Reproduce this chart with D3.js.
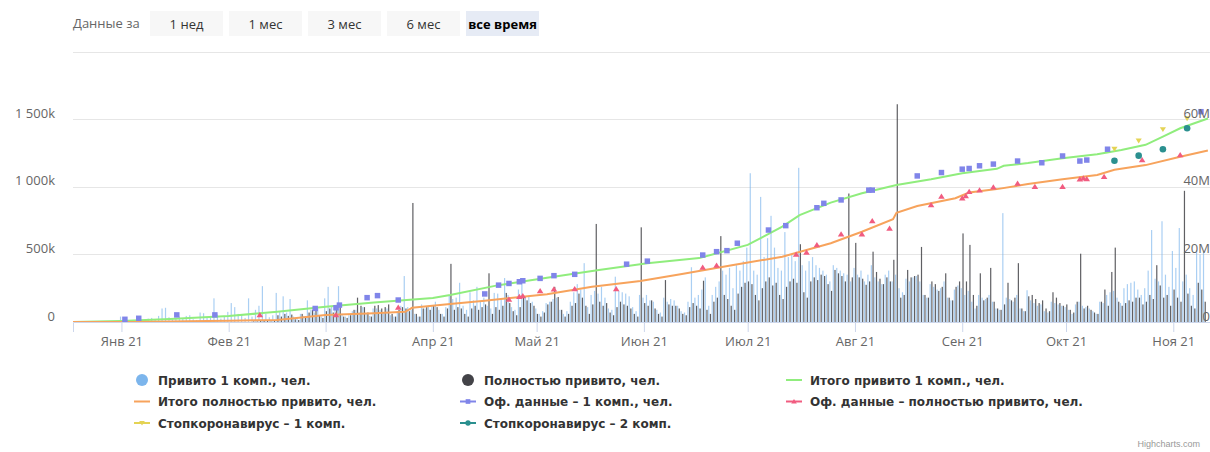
<!DOCTYPE html>
<html>
<head>
<meta charset="utf-8">
<script src="https://cdn.jsdelivr.net/npm/d3@7"></script>
<style>
  body { margin: 0; background: #fff; }
  svg { display: block; font-family: "Open Sans", "DejaVu Sans", sans-serif; }
</style>
</head>
<body>
<svg id="chart" width="1210" height="452"></svg>
<script>
// ---- data ----
// daily bars start on this date, values in thousands of people
var barStart = "2021-01-01";
var dose1Daily = [
  // Jan
  40, 8, 5, 10, 15, 20, 12, 8, 25, 30, 20, 45, 100, 105, 35, 20, 30, 40, 25, 45, 50, 20, 15, 70, 65, 35, 40, 175, 55, 25, 40,
  // Feb
  75, 140, 110, 60, 50, 30, 175, 40, 90, 120, 265, 60, 35, 50, 215, 80, 190, 70, 170, 40, 30, 60, 45, 160, 90, 70, 100, 40,
  // Mar
  175, 260, 120, 90, 265, 60, 40, 50, 80, 90, 70, 110, 60, 45, 100, 100, 90, 70, 100, 50, 40, 80, 120, 340, 110, 90, 60, 40, 130, 100, 120,
  // Apr
  120, 150, 90, 60, 110, 200, 170, 180, 290, 120, 90, 220, 160, 260, 150, 180, 120, 100, 215, 210, 170, 325, 200, 110, 90, 240, 295, 185, 185, 150,
  // May
  100, 60, 80, 140, 150, 170, 180, 90, 60, 80, 150, 220, 280, 240, 435, 110, 200, 230, 210, 260, 180, 100, 90, 335, 230, 220, 210, 190, 110, 80, 200,
  // Jun
  180, 200, 160, 150, 90, 70, 180, 150, 170, 160, 120, 80, 70, 150, 405, 180, 200, 240, 330, 120, 200, 260, 300, 380, 350, 400, 250, 420, 380, 450,
  // Jul
  550, 1100, 380, 350, 925, 480, 620, 785, 550, 400, 380, 665, 480, 500, 450, 1140, 420, 380, 450, 480, 420, 400, 380, 350, 300, 420, 400, 380, 360, 350, 300,
  // Aug
  400, 350, 380, 300, 350, 420, 330, 300, 280, 350, 380, 300, 350, 250, 220, 320, 300, 330, 340, 300, 200, 180, 280, 260, 240, 250, 300, 180, 160, 240, 270,
  // Sep
  250, 200, 230, 150, 100, 200, 180, 170, 200, 150, 100, 90, 805, 180, 170, 150, 200, 100, 80, 235, 160, 140, 120, 130, 80, 70, 150, 140, 130, 120,
  // Oct
  110, 90, 60, 130, 150, 120, 110, 100, 80, 60, 150, 140, 200, 220, 230, 180, 140, 250, 280, 290, 300, 240, 200, 250, 380, 680, 320, 300, 745, 350, 260,
  // Nov
  525, 400, 695, 300, 350, 250, 200, 530, 500, 520
];
var fullDaily = [
  // Jan
  0, 0, 0, 0, 0, 0, 0, 0, 0, 0, 0, 0, 0, 0, 0, 0, 0, 0, 0, 0, 0, 0, 0, 0, 0, 0, 0, 0, 0, 0, 0,
  // Feb
  0, 0, 0, 0, 0, 0, 0, 5, 5, 10, 15, 10, 5, 10, 50, 40, 60, 45, 55, 20, 15, 60, 40, 70, 90, 110, 50, 30,
  // Mar
  80, 100, 70, 90, 110, 40, 30, 50, 90, 180, 120, 110, 70, 40, 120, 125, 100, 110, 130, 60, 40, 90, 110, 100, 80, 880, 60, 40, 100, 110, 90,
  // Apr
  120, 110, 60, 40, 100, 430, 90, 110, 100, 60, 40, 100, 120, 90, 110, 130, 360, 60, 110, 90, 120, 215, 140, 80, 50, 110, 185, 160, 140, 120,
  // May
  60, 40, 70, 130, 150, 260, 185, 90, 40, 60, 120, 140, 210, 180, 120, 60, 130, 725, 150, 120, 140, 70, 50, 110, 150, 130, 120, 100, 60, 40, 700,
  // Jun
  140, 120, 160, 100, 60, 40, 310, 130, 120, 120, 100, 60, 50, 110, 140, 120, 100, 305, 90, 60, 150, 180, 635, 200, 170, 120, 90, 210, 260, 290,
  // Jul
  300, 280, 200, 160, 250, 300, 330, 270, 290, 200, 170, 260, 300, 320, 290, 575, 220, 180, 300, 330, 310, 350, 340, 280, 230, 385, 360, 340, 300, 950, 330,
  // Aug
  585, 330, 320, 275, 300, 520, 370, 320, 280, 330, 300, 460, 1610, 180, 200, 385, 330, 340, 350, 555, 200, 180, 300, 280, 230, 260, 360, 180, 160, 260, 300,
  // Sep
  655, 300, 570, 200, 120, 360, 160, 180, 400, 150, 100, 90, 130, 290, 160, 180, 435, 100, 80, 190, 200, 170, 140, 160, 100, 80, 220, 180, 140, 120,
  // Oct
  130, 90, 70, 150, 505, 100, 120, 90, 70, 60, 150, 240, 120, 370, 550, 150, 120, 140, 160, 150, 180, 180, 130, 150, 200, 170, 420, 270, 180, 200, 120,
  // Nov
  240, 180, 150, 970, 210, 120, 100, 290, 240, 150
];

// cumulative totals, millions (right axis)
var totalDose1 = [
  ["2020-12-18", 0], ["2021-01-01", 0.3], ["2021-01-15", 0.9], ["2021-02-01", 1.8], ["2021-02-15", 3.0],
  ["2021-03-01", 4.5], ["2021-03-15", 5.8], ["2021-04-01", 7.1], ["2021-04-06", 8.0], ["2021-04-20", 10.9],
  ["2021-05-04", 13.1], ["2021-05-19", 15.4], ["2021-06-02", 17.4], ["2021-06-17", 18.9], ["2021-07-01", 22.8],
  ["2021-07-11", 28.2], ["2021-07-16", 31.6], ["2021-07-25", 35.3], ["2021-08-03", 38.1], ["2021-08-13", 40.5],
  ["2021-08-23", 42.2], ["2021-09-01", 44.0], ["2021-09-11", 45.3], ["2021-09-13", 46.2], ["2021-09-20", 47.0],
  ["2021-09-30", 48.4], ["2021-10-10", 49.6], ["2021-10-17", 50.9], ["2021-10-24", 52.4], ["2021-10-29", 54.8],
  ["2021-11-03", 57.3], ["2021-11-11", 60.2]
];
var totalFull = [
  ["2020-12-18", 0], ["2021-01-05", 0], ["2021-01-20", 0.2], ["2021-02-01", 0.4], ["2021-02-15", 0.6],
  ["2021-03-01", 2.1], ["2021-03-15", 2.6], ["2021-03-24", 3.0], ["2021-03-26", 4.2], ["2021-04-06", 5.3],
  ["2021-04-16", 6.3], ["2021-05-04", 8.2], ["2021-05-17", 10.4], ["2021-05-31", 12.1], ["2021-06-12", 14.2],
  ["2021-06-26", 16.7], ["2021-07-11", 19.3], ["2021-07-25", 23.3], ["2021-08-03", 26.7], ["2021-08-12", 30.4],
  ["2021-08-13", 32.3], ["2021-08-19", 34.3], ["2021-08-30", 36.6], ["2021-09-03", 38.3], ["2021-09-11", 39.3],
  ["2021-09-20", 40.8], ["2021-09-30", 42.2], ["2021-10-10", 43.5], ["2021-10-15", 45.0], ["2021-10-24", 46.4],
  ["2021-11-03", 48.9], ["2021-11-11", 50.7]
];
// official data points, millions
var officialDose1 = [
  ["2021-01-02", 0.8], ["2021-01-06", 1.1], ["2021-01-17", 2.1], ["2021-01-28", 2.1], ["2021-02-26", 4.0],
  ["2021-03-04", 4.2], ["2021-03-05", 5.0], ["2021-03-13", 7.2], ["2021-03-16", 7.8], ["2021-03-22", 6.5],
  ["2021-04-16", 8.3], ["2021-04-20", 10.9], ["2021-04-23", 11.4], ["2021-04-26", 11.9], ["2021-04-27", 12.2],
  ["2021-05-02", 12.9], ["2021-05-06", 13.7], ["2021-05-12", 14.1], ["2021-05-27", 17.1], ["2021-06-02", 18.0],
  ["2021-06-18", 19.8], ["2021-06-22", 20.8], ["2021-06-25", 21.1], ["2021-06-28", 23.3], ["2021-07-07", 27.2],
  ["2021-07-12", 28.5], ["2021-07-21", 33.8], ["2021-07-23", 35.1], ["2021-07-28", 36.1], ["2021-08-05", 39.0],
  ["2021-08-06", 39.0], ["2021-08-19", 43.2], ["2021-08-26", 44.2], ["2021-09-01", 45.2], ["2021-09-03", 45.4],
  ["2021-09-06", 46.2], ["2021-09-10", 46.7], ["2021-09-17", 47.6], ["2021-09-24", 47.1], ["2021-09-30", 49.1],
  ["2021-10-05", 47.6], ["2021-10-07", 47.9], ["2021-10-13", 51.1], ["2021-11-09", 62.2]
];
var officialFull = [
  ["2021-02-10", 2.1], ["2021-03-04", 2.1], ["2021-03-22", 4.3], ["2021-04-23", 6.7], ["2021-04-26", 7.5],
  ["2021-04-27", 7.7], ["2021-05-02", 9.2], ["2021-05-06", 9.7], ["2021-05-12", 9.8], ["2021-05-24", 9.8],
  ["2021-06-18", 16.1], ["2021-06-22", 16.7], ["2021-07-15", 20.0], ["2021-07-18", 20.6], ["2021-07-21", 22.8],
  ["2021-07-28", 26.0], ["2021-08-03", 26.0], ["2021-08-06", 29.9], ["2021-08-11", 27.7], ["2021-08-23", 34.6],
  ["2021-08-26", 37.1], ["2021-09-01", 36.6], ["2021-09-02", 37.3], ["2021-09-03", 38.5], ["2021-09-06", 39.0],
  ["2021-09-10", 39.9], ["2021-09-17", 41.0], ["2021-09-22", 40.0], ["2021-09-30", 40.0], ["2021-10-05", 42.2],
  ["2021-10-06", 42.5], ["2021-10-07", 42.3], ["2021-10-12", 43.0], ["2021-10-23", 47.9], ["2021-11-03", 49.4]
];
var stopcovid1 = [["2021-10-15", 51.2], ["2021-10-22", 53.6], ["2021-10-29", 57.0], ["2021-11-05", 60.2]];
var stopcovid2 = [["2021-10-15", 47.7], ["2021-10-22", 49.2], ["2021-10-29", 51.1], ["2021-11-05", 57.3]];

var monthNames = ["Янв", "Фев", "Мар", "Апр", "Май", "Июн", "Июл", "Авг", "Сен", "Окт", "Ноя", "Дек"];
var leftTicks = [0, 500, 1000, 1500];
var rightTicks = [0, 20, 40, 60];
var rangeButtons = ["1 нед", "1 мес", "3 мес", "6 мес", "все время"];
var seriesNames = [
  "Привито 1 комп., чел.", "Полностью привито, чел.", "Итого привито 1 комп., чел.",
  "Итого полностью привито, чел.", "Оф. данные – 1 комп., чел.", "Оф. данные – полностью привито, чел.",
  "Стопкоронавирус – 1 комп.", "Стопкоронавирус – 2 комп."
];

(function() {
// ---- setup ----
var parse = d3.timeParse("%Y-%m-%d");
var svg = d3.select("#chart");
var plotLeft = 73, plotRight = 1210, plotBottom = 322, plotTop = 51.5;

var x = d3.scaleTime()
  .domain([parse("2020-12-18"), parse("2021-11-12")])
  .range([plotLeft, plotLeft + 329 * 3.46]);
var yL = d3.scaleLinear().domain([0, 2000]).range([plotBottom, plotTop]);
var yR = d3.scaleLinear().domain([0, 80]).range([plotBottom, plotTop]);

var colors = {
  dose1: "#7cb5ec", full: "#434348", tot1: "#90ed7d", totFull: "#f7a35c",
  off1: "#8085e9", offFull: "#f15c80", stop1: "#e4d354", stop2: "#2b908f"
};

// range selector
svg.append("text").attr("x", 73).attr("y", 28)
  .attr("font-size", 13).attr("fill", "#666").text("Данные за");
var btn = svg.append("g").selectAll("g").data(rangeButtons).enter().append("g")
  .attr("transform", function(d, i) { return "translate(" + (150 + i * 79) + ",11)"; });
btn.append("rect").attr("width", 73).attr("height", 25)
  .attr("fill", function(d, i) { return i == 4 ? "#e6ebf5" : "#f7f7f7"; });
btn.append("text").attr("x", 36.5).attr("y", 17.5).attr("text-anchor", "middle")
  .attr("font-size", 13)
  .attr("font-weight", function(d, i) { return i == 4 ? "bold" : "normal"; })
  .attr("fill", function(d, i) { return i == 4 ? "#000" : "#333"; })
  .text(function(d) { return d; });

// grid
svg.append("g").selectAll("line").data([500, 1000, 1500, 2000]).enter().append("line")
  .attr("x1", plotLeft).attr("x2", plotRight)
  .attr("y1", function(d) { return Math.round(yL(d)) + 0.5; })
  .attr("y2", function(d) { return Math.round(yL(d)) + 0.5; })
  .attr("stroke", "#e6e6e6");

// x axis
var monthTicks = d3.timeMonth.range(parse("2021-01-01"), parse("2021-11-02"));
var xAxis = svg.append("g").attr("transform", "translate(0," + plotBottom + ")")
  .call(d3.axisBottom(x).tickValues(monthTicks).tickSize(10).tickPadding(5)
    .tickFormat(function(d) { return monthNames[d.getMonth()] + " " + d3.timeFormat("%y")(d); }));
xAxis.select(".domain").attr("stroke", "#ccd6eb");
xAxis.selectAll(".tick line").attr("stroke", "#ccd6eb");
xAxis.selectAll("text").attr("font-size", 13).attr("fill", "#666").attr("font-family", "Open Sans");

svg.append("clipPath").attr("id", "clip").append("rect")
  .attr("x", plotLeft).attr("y", 0).attr("width", plotRight - plotLeft).attr("height", plotBottom);
var plot = svg.append("g").attr("clip-path", "url(#clip)");

// bars
var start = parse(barStart);
function dayOf(i) { return d3.timeDay.offset(start, i); }
plot.append("g").selectAll("rect").data(dose1Daily).enter().append("rect")
  .attr("x", function(d, i) { return x(dayOf(i)) - 1.5; })
  .attr("width", 1.2)
  .attr("y", function(d) { return yL(d); })
  .attr("height", function(d) { return plotBottom - yL(d); })
  .attr("fill", colors.dose1).attr("fill-opacity", 0.65);
plot.append("g").selectAll("rect").data(fullDaily).enter().append("rect")
  .attr("x", function(d, i) { return x(dayOf(i)) + 0.2; })
  .attr("width", 1.2)
  .attr("y", function(d) { return yL(d); })
  .attr("height", function(d) { return plotBottom - yL(d); })
  .attr("fill", colors.full).attr("fill-opacity", 0.85);

// cumulative lines
var line = d3.line()
  .x(function(d) { return x(parse(d[0])); })
  .y(function(d) { return yR(d[1]); });
plot.append("path").datum(totalDose1).attr("d", line)
  .attr("fill", "none").attr("stroke", colors.tot1).attr("stroke-width", 2);
plot.append("path").datum(totalFull).attr("d", line)
  .attr("fill", "none").attr("stroke", colors.totFull).attr("stroke-width", 2);

// scatter series
var triDown = { draw: function(ctx, size) {
  var s = Math.sqrt(size) * 0.6;
  ctx.moveTo(-s, -s * 0.7); ctx.lineTo(s, -s * 0.7); ctx.lineTo(0, s * 0.9); ctx.closePath();
} };
var triUp = { draw: function(ctx, size) {
  var s = Math.sqrt(size) * 0.6;
  ctx.moveTo(-s, s * 0.7); ctx.lineTo(s, s * 0.7); ctx.lineTo(0, -s * 0.9); ctx.closePath();
} };
function markers(data, symbol, size, color) {
  plot.append("g").selectAll("path").data(data).enter().append("path")
    .attr("transform", function(d) { return "translate(" + x(parse(d[0])) + "," + yR(d[1]) + ")"; })
    .attr("d", d3.symbol().type(symbol).size(size))
    .attr("fill", color);
}
markers(officialDose1, d3.symbolSquare, 30, colors.off1);
markers(officialFull, triUp, 30, colors.offFull);
markers(stopcovid1, triDown, 26, colors.stop1);
markers(stopcovid2, d3.symbolCircle, 34, colors.stop2);

// y axes labels
function fmtLeft(v) {
  if (v == 0) return "0";
  if (v >= 1000) return Math.floor(v / 1000) + " " + String(v % 1000).padStart(3, "0") + "k";
  return v + "k";
}
var yAxisL = svg.append("g").attr("transform", "translate(55,0)")
  .call(d3.axisLeft(yL).tickValues(leftTicks).tickSize(0).tickPadding(0).tickFormat(fmtLeft));
yAxisL.select(".domain").remove();
yAxisL.selectAll("text").attr("dy", -2).attr("font-size", 13).attr("fill", "#666").attr("font-family", "Open Sans");

var yAxisR = svg.append("g").attr("transform", "translate(1210,0)")
  .call(d3.axisLeft(yR).tickValues(rightTicks).tickSize(0).tickPadding(0)
    .tickFormat(function(v) { return v == 0 ? "0" : v + "M"; }));
yAxisR.select(".domain").remove();
yAxisR.selectAll("text").attr("dy", -2).attr("font-size", 13).attr("fill", "#666").attr("font-family", "Open Sans");

// legend
var legendKinds = ["dot", "dot", "line", "line", "square", "triUp", "triDown", "circle"];
var legendColors = [colors.dose1, colors.full, colors.tot1, colors.totFull, colors.off1, colors.offFull, colors.stop1, colors.stop2];
var legend = svg.append("g").attr("font-family", "DejaVu Sans, sans-serif")
  .selectAll("g").data(seriesNames).enter().append("g")
  .attr("transform", function(d, i) {
    return "translate(" + (142 + (i % 3) * 326) + "," + (380 + Math.floor(i / 3) * 21.5) + ")";
  });
legend.each(function(d, i) {
  var g = d3.select(this), k = legendKinds[i], c = legendColors[i];
  if (k == "dot") {
    g.append("circle").attr("r", 6).attr("fill", c);
  } else {
    g.append("line").attr("x1", -8).attr("x2", 8).attr("stroke", c).attr("stroke-width", 2);
    var sym = { square: d3.symbolSquare, triUp: triUp, triDown: triDown, circle: d3.symbolCircle }[k];
    if (sym) g.append("path").attr("d", d3.symbol().type(sym).size(22)).attr("fill", c);
  }
  g.append("text").attr("x", 16).attr("y", 4.5).attr("font-size", 12).attr("font-weight", "bold")
    .attr("fill", "#333").text(d);
});

// credits
svg.append("text").attr("x", 1200).attr("y", 447).attr("text-anchor", "end")
  .attr("font-size", 9).attr("fill", "#999").attr("font-family", "Liberation Sans, Arial, sans-serif")
  .text("Highcharts.com");
})();
</script>
</body>
</html>
